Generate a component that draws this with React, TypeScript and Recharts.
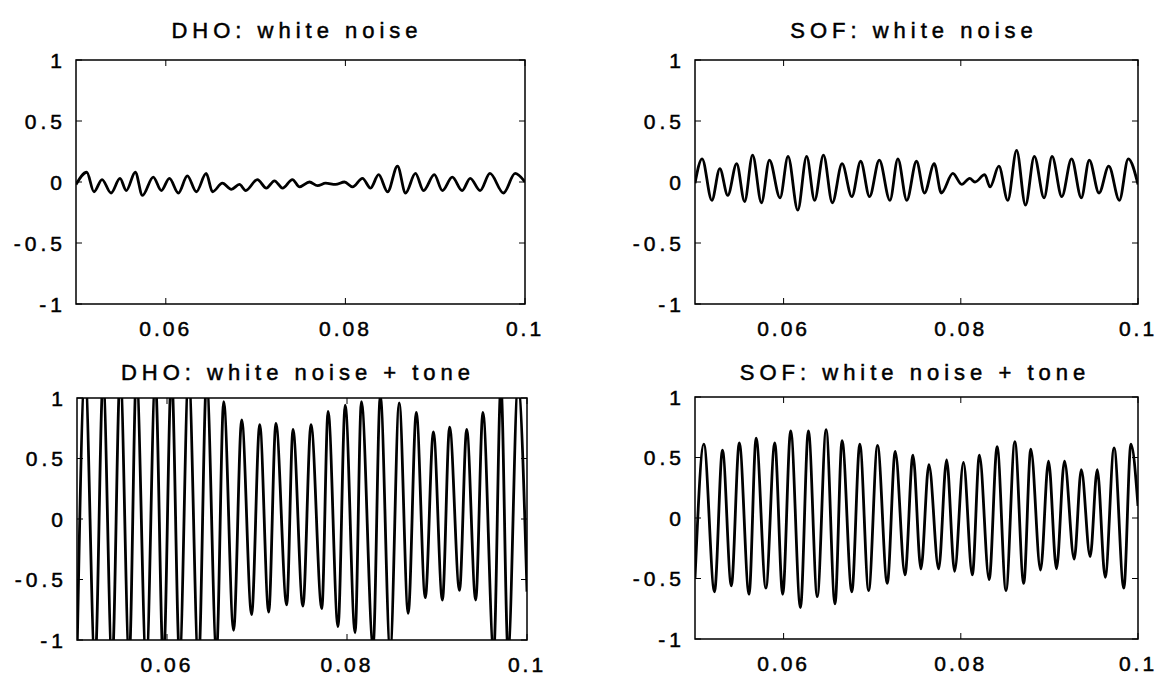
import React from 'react';
import { LineChart, Line, XAxis, YAxis, ReferenceArea } from 'recharts';

// Four MATLAB-style subplots: DHO vs SOF response, noise only and noise + tone

const xTicks = [0.06, 0.08, 0.1];
const yTicks = [-1, -0.5, 0, 0.5, 1];
const xDomain: [number, number] = [0.05, 0.1];
const yDomain: [number, number] = [-1, 1];

const titles = [
  'DHO: white noise',
  'SOF: white noise',
  'DHO: white noise + tone',
  'SOF: white noise + tone',
];

// peaks and troughs (time in s, amplitude)
const dhoNoiseT = [
  0.05, 0.0512, 0.052, 0.0529, 0.0539, 0.0549, 0.0556, 0.0566, 0.0574, 0.0586, 0.0595, 0.0604, 0.0614,
  0.0624, 0.0634, 0.0645, 0.0652, 0.0663, 0.0673, 0.0682, 0.0689, 0.0702, 0.0712, 0.0721, 0.073, 0.0741,
  0.0749, 0.076, 0.0769, 0.0778, 0.0789, 0.0799, 0.0808, 0.0819, 0.0828, 0.0837, 0.0847, 0.0858, 0.0867,
  0.0878, 0.0887, 0.0899, 0.0908, 0.0919, 0.093, 0.0939, 0.095, 0.0961, 0.0976, 0.0989, 0.1,
];
const dhoNoiseV = [
  -0.02, 0.08, -0.08, 0.02, -0.09, 0.03, -0.07, 0.08, -0.11, 0.04, -0.07, 0.03, -0.09,
  0.05, -0.08, 0.07, -0.08, -0.01, -0.06, -0.02, -0.07, 0.02, -0.05, 0.01, -0.05, 0.02,
  -0.04, 0.0, -0.03, -0.01, -0.02, 0.0, -0.04, 0.03, -0.05, 0.06, -0.08, 0.13, -0.09,
  0.07, -0.07, 0.06, -0.07, 0.04, -0.07, 0.03, -0.07, 0.07, -0.09, 0.07, 0.0,
];

const sofNoiseT = [
  0.05, 0.0508, 0.0519, 0.0528, 0.0537, 0.0547, 0.0556, 0.0565, 0.0575, 0.0584, 0.0596, 0.0605, 0.0616,
  0.0626, 0.0635, 0.0645, 0.0655, 0.0666, 0.0677, 0.0687, 0.0697, 0.0708, 0.072, 0.0729, 0.0739, 0.075,
  0.0759, 0.077, 0.0778, 0.0791, 0.0801, 0.081, 0.0816, 0.0827, 0.0833, 0.0843, 0.0853, 0.0863, 0.0873,
  0.0883, 0.0894, 0.0903, 0.0914, 0.0925, 0.0936, 0.0945, 0.0956, 0.0967, 0.0979, 0.0989, 0.1,
];
const sofNoiseV = [
  -0.01, 0.19, -0.15, 0.11, -0.11, 0.15, -0.16, 0.22, -0.17, 0.18, -0.13, 0.21, -0.23,
  0.21, -0.15, 0.22, -0.17, 0.15, -0.12, 0.17, -0.12, 0.18, -0.15, 0.19, -0.15, 0.17,
  -0.09, 0.15, -0.09, 0.07, -0.02, 0.03, 0.0, 0.06, -0.04, 0.13, -0.15, 0.26, -0.19,
  0.21, -0.13, 0.21, -0.12, 0.19, -0.13, 0.18, -0.09, 0.13, -0.15, 0.19, -0.02,
];

const dhoToneT = [
  0.05, 0.0509, 0.052, 0.0529, 0.0539, 0.0548, 0.0558, 0.0566, 0.0577, 0.0587, 0.0596, 0.0605, 0.0614,
  0.0624, 0.0635, 0.0644, 0.0655, 0.0663, 0.0674, 0.0683, 0.0694, 0.0703, 0.0713, 0.0721, 0.0733, 0.074,
  0.0751, 0.076, 0.0772, 0.0779, 0.079, 0.0798, 0.0809, 0.0816, 0.0829, 0.0837, 0.0848, 0.0858, 0.0868,
  0.0877, 0.0887, 0.0896, 0.0906, 0.0914, 0.0925, 0.0933, 0.0943, 0.0951, 0.0963, 0.0971, 0.0979, 0.099, 0.1,
];
const dhoToneV = [
  -1.15, 1.2, -1.2, 1.15, -1.2, 1.2, -1.15, 1.2, -1.2, 1.15, -1.2, 1.2, -1.15,
  1.2, -1.2, 1.15, -1.1, 0.97, -0.92, 0.82, -0.79, 0.78, -0.77, 0.79, -0.71, 0.74,
  -0.72, 0.78, -0.74, 0.89, -0.89, 0.94, -0.94, 0.97, -1.05, 1.02, -1.08, 0.96, -0.78,
  0.88, -0.65, 0.72, -0.67, 0.76, -0.59, 0.74, -0.67, 0.88, -1.1, 1.1, -1.1, 1.1, -0.6,
];

const sofToneT = [
  0.05, 0.051, 0.0522, 0.0531, 0.0541, 0.055, 0.0561, 0.0569, 0.058, 0.059, 0.0599, 0.0608, 0.0619,
  0.0628, 0.0638, 0.0648, 0.0658, 0.0666, 0.0677, 0.0686, 0.0696, 0.0706, 0.0717, 0.0726, 0.0737, 0.0746,
  0.0755, 0.0764, 0.0775, 0.0784, 0.0793, 0.0803, 0.0813, 0.0821, 0.0832, 0.0841, 0.0851, 0.0861, 0.0871,
  0.0879, 0.089, 0.0899, 0.0908, 0.0917, 0.0928, 0.0936, 0.0946, 0.0954, 0.0963, 0.0973, 0.0984, 0.0992, 0.1,
];
const sofToneV = [
  -0.5, 0.61, -0.61, 0.56, -0.56, 0.62, -0.63, 0.66, -0.58, 0.62, -0.63, 0.72, -0.74,
  0.72, -0.65, 0.73, -0.71, 0.64, -0.61, 0.61, -0.6, 0.6, -0.54, 0.55, -0.47, 0.52,
  -0.42, 0.44, -0.42, 0.48, -0.44, 0.46, -0.47, 0.52, -0.51, 0.59, -0.6, 0.63, -0.54,
  0.57, -0.43, 0.47, -0.42, 0.47, -0.34, 0.4, -0.32, 0.4, -0.49, 0.58, -0.58, 0.61, 0.1,
];

const FONT = "'Liberation Sans', Arial, Helvetica, sans-serif";
const Y_AXIS_W = 70;
const X_AXIS_H = 40;
const M_TOP = 10;
const M_RIGHT = 30;
const INNER_TICK = 6;
const X_LABEL_GAP = 24;

interface Box {
  left: number;
  top: number;
  width: number;
  height: number;
}

function XTick(props: any) {
  const { x, y, payload, plotH } = props;
  return (
    <g>
      <line x1={x} y1={y} x2={x} y2={y - INNER_TICK} stroke="#000" strokeWidth={1} />
      <line x1={x} y1={y - plotH} x2={x} y2={y - plotH + INNER_TICK} stroke="#000" strokeWidth={1} />
      <text
        x={x}
        y={y + X_LABEL_GAP}
        textAnchor="middle"
        dominantBaseline="central"
        fontFamily={FONT}
        fontSize={21}
        letterSpacing={3}
        fill="#000"
        stroke="#000"
        strokeWidth={0.5}
      >
        {String(payload.value)}
      </text>
    </g>
  );
}

function YTick(props: any) {
  const { x, y, payload, plotW } = props;
  return (
    <g>
      <line x1={x} y1={y} x2={x + INNER_TICK} y2={y} stroke="#000" strokeWidth={1} />
      <line x1={x + plotW} y1={y} x2={x + plotW - INNER_TICK} y2={y} stroke="#000" strokeWidth={1} />
      <text
        x={x - 10}
        y={y}
        textAnchor="end"
        dominantBaseline="central"
        fontFamily={FONT}
        fontSize={21}
        letterSpacing={4}
        fill="#000"
        stroke="#000"
        strokeWidth={0.5}
      >
        {String(payload.value)}
      </text>
    </g>
  );
}

interface PanelProps {
  title: string;
  t: number[];
  v: number[];
  box: Box;
  titleX: number;
  titleY: number;
}

function Panel({ title, t, v, box, titleX, titleY }: PanelProps) {
  const data = t.map((time, i) => ({ t: time, v: v[i] }));
  const w = box.width + Y_AXIS_W + M_RIGHT;
  const h = box.height + M_TOP + X_AXIS_H;

  return (
    <>
      <div
        style={{
          position: 'absolute',
          left: titleX - 250,
          top: titleY - 11,
          width: 500,
          textAlign: 'center',
          fontFamily: FONT,
          fontSize: 22,
          lineHeight: '22px',
          letterSpacing: 5,
          color: '#000',
          whiteSpace: 'nowrap',
          WebkitTextStroke: '0.5px #000',
        }}
      >
        {title}
      </div>
      <div style={{ position: 'absolute', left: box.left - Y_AXIS_W, top: box.top - M_TOP }}>
        <LineChart width={w} height={h} data={data} margin={{ top: M_TOP, right: M_RIGHT, bottom: 0, left: 0 }}>
          <XAxis
            dataKey="t"
            type="number"
            domain={xDomain}
            ticks={xTicks}
            interval={0}
            allowDataOverflow
            axisLine={false}
            tickLine={false}
            tickSize={0}
            tickMargin={0}
            height={X_AXIS_H}
            tick={(p: any) => <XTick {...p} plotH={box.height} />}
          />
          <YAxis
            type="number"
            domain={yDomain}
            ticks={yTicks}
            interval={0}
            allowDataOverflow
            axisLine={false}
            tickLine={false}
            tickSize={0}
            tickMargin={0}
            width={Y_AXIS_W}
            tick={(p: any) => <YTick {...p} plotW={box.width} />}
          />
          <ReferenceArea
            x1={xDomain[0]}
            x2={xDomain[1]}
            y1={yDomain[0]}
            y2={yDomain[1]}
            fill="none"
            fillOpacity={0}
            stroke="#000"
            strokeWidth={1.5}
          />
          <Line
            dataKey="v"
            type="monotone"
            stroke="#000"
            strokeWidth={2.8}
            dot={false}
            activeDot={false}
            isAnimationActive={false}
          />
        </LineChart>
      </div>
    </>
  );
}

export default function App() {
  return (
    <div
      style={{
        position: 'absolute',
        left: 0,
        top: 0,
        width: 1162,
        height: 676,
        overflow: 'hidden',
        background: '#fff',
      }}
    >
      <Panel title={titles[0]} t={dhoNoiseT} v={dhoNoiseV} box={{ left: 76, top: 60, width: 449, height: 244 }} titleX={297} titleY={31} />
      <Panel title={titles[1]} t={sofNoiseT} v={sofNoiseV} box={{ left: 695, top: 60, width: 443, height: 244 }} titleX={914} titleY={31} />
      <Panel title={titles[2]} t={dhoToneT} v={dhoToneV} box={{ left: 77, top: 398, width: 450, height: 242 }} titleX={298} titleY={373} />
      <Panel title={titles[3]} t={sofToneT} v={sofToneV} box={{ left: 695, top: 397, width: 443, height: 242 }} titleX={915} titleY={373} />
    </div>
  );
}
